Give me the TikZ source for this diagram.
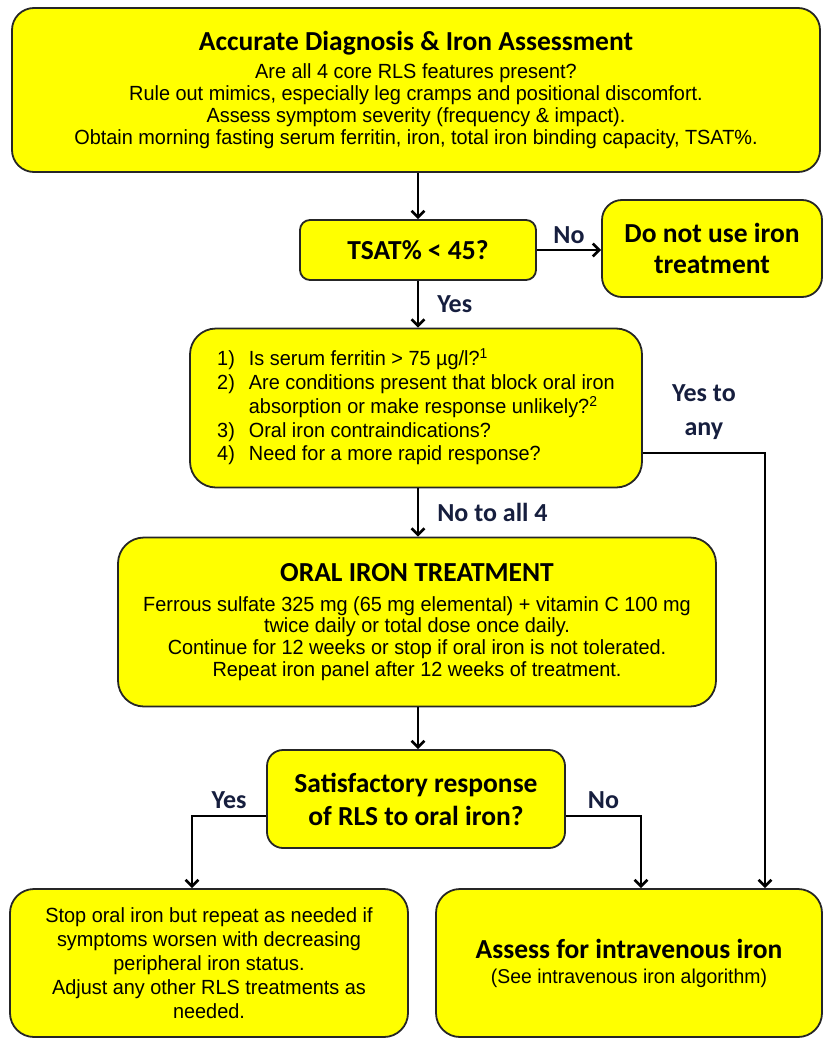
\documentclass[tikz,border=0pt]{standalone}
\usepackage{fontspec}
\usetikzlibrary{arrows.meta}
\newfontfamily\bodyf{Liberation Sans}[FakeStretch=0.97]
\newfontfamily\headf{Carlito}
\definecolor{navy}{RGB}{22,30,62}
\definecolor{boxy}{RGB}{255,255,0}
\newcommand{\hdfont}{\headf\bfseries\fontsize{27.5}{31}\selectfont}
\begin{document}
\begin{tikzpicture}[x=1pt,y=-1pt,
  box/.style={draw=black!85, line width=1.8pt, fill=boxy, rounded corners=20pt, inner sep=0pt, align=center},
  arr/.style={line width=2.6pt, -{Straight Barb[length=6.5pt,width=13pt,line width=2.6pt]}},
  lbl/.style={font=\headf\bfseries\fontsize{26}{34}\selectfont, text=navy, inner sep=0pt, align=center},
  hd/.style={font=\hdfont},
  bd/.style={font=\bodyf\fontsize{20.5}{21.8}\selectfont}
]
\useasboundingbox (0,0) rectangle (823,1041);

\node[box, bd, minimum width=808pt, minimum height=164pt, rounded corners=22pt] (top) at (416,90)
 {{\hdfont Accurate Diagnosis \& Iron Assessment}\\[6pt]
  Are all 4 core RLS features present?\\
  Rule out mimics, especially leg cramps and positional discomfort.\\
  Assess symptom severity (frequency \& impact).\\
  Obtain morning fasting serum ferritin, iron, total iron binding capacity, TSAT\%.};

\node[box, hd, minimum width=236pt, minimum height=60pt, rounded corners=10pt] (tsat) at (418,250) {TSAT\% < 45?};

\node[box, hd, minimum width=220pt, minimum height=97pt] (nouse) at (712,248.5) {Do not use iron\\treatment};

\node[box, minimum width=452pt, minimum height=159pt, rounded corners=26pt] (q) at (416,408)
 {\bodyf\fontsize{20.5}{23.5}\selectfont
  \begin{tabular}{@{}l@{\hspace{14pt}}l@{}}
  1) & Is serum ferritin > 75 µg/l?\textsuperscript{1}\\
  2) & Are conditions present that block oral iron\\
     & absorption or make response unlikely?\textsuperscript{2}\\
  3) & Oral iron contraindications?\\
  4) & Need for a more rapid response?
  \end{tabular}};

\node[box, bd, minimum width=598pt, minimum height=169pt, rounded corners=26pt] (oral) at (417,622)
 {{\hdfont ORAL IRON TREATMENT}\\[8pt]
  Ferrous sulfate 325 mg (65 mg elemental) + vitamin C 100 mg\\
  twice daily or total dose once daily.\\
  Continue for 12 weeks or stop if oral iron is not tolerated.\\
  Repeat iron panel after 12 weeks of treatment.};

\node[box, font=\headf\bfseries\fontsize{27.5}{33}\selectfont, minimum width=298pt, minimum height=98pt, rounded corners=16pt] (sat) at (416,799)
 {Satisfactory response\\of RLS to oral iron?};

\node[box, font=\bodyf\fontsize{20.5}{24}\selectfont, minimum width=398pt, minimum height=148pt, rounded corners=24pt] (stop) at (209,963)
 {Stop oral iron but repeat as needed if\\
  symptoms worsen with decreasing\\
  peripheral iron status.\\
  Adjust any other RLS treatments as\\
  needed.};

\node[box, font=\bodyf\fontsize{20}{22}\selectfont, minimum width=386pt, minimum height=148pt, rounded corners=24pt] (iv) at (629,963)
 {{\hdfont Assess for intravenous iron}\\[3pt]
  (See intravenous iron algorithm)};

% connectors
\draw[arr] (top.south -| tsat.north) -- (tsat.north);
\draw[arr] (tsat.east) -- (tsat.east -| nouse.west) node[lbl, midway, above=5pt] {No};
\draw[arr] (tsat.south) -- (q.north -| tsat.south) node[lbl, midway, right=18pt] {Yes};
\draw[arr] (q.south -| tsat.south) -- (oral.north -| tsat.south) node[lbl, midway, right=18pt] {No to all 4};
\draw[arr] ([yshift=-45pt]q.east) -| ([xshift=136pt]iv.north) node[lbl, pos=0.25, above=12pt] {Yes to\\any};
\draw[arr] (oral.south -| tsat.south) -- (sat.north -| tsat.south);
\draw[arr] ([yshift=-17pt]sat.west) -| ([xshift=-17pt]stop.north) node[lbl, pos=0.25, above=6pt] {Yes};
\draw[arr] ([yshift=-17pt]sat.east) -| ([xshift=12pt]iv.north) node[lbl, pos=0.25, above=6pt] {No};
\end{tikzpicture}
\end{document}
